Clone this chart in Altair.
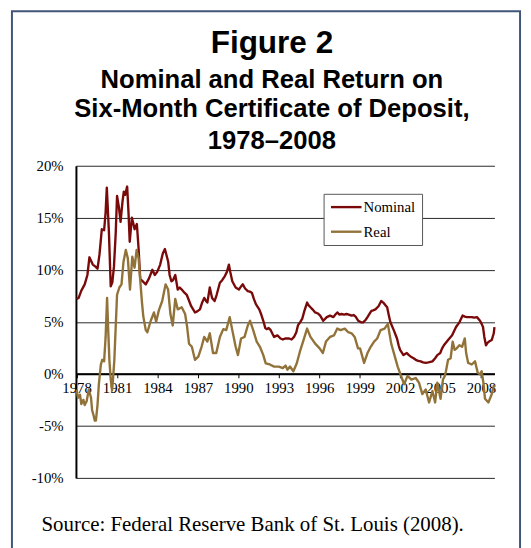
import altair as alt
import pandas as pd

# ---- data ----
nominal_t = [1978.0, 1978.15, 1978.35, 1978.6, 1978.8, 1978.95, 1979.2, 1979.4, 1979.55, 1979.7,
             1979.87, 1980.04, 1980.15, 1980.24, 1980.4, 1980.53, 1980.65, 1980.77, 1980.9, 1981.0,
             1981.14, 1981.26, 1981.4, 1981.5, 1981.6, 1981.75, 1981.85, 1981.94, 1982.1, 1982.2,
             1982.3, 1982.47, 1982.6, 1982.72, 1982.9, 1983.13, 1983.38, 1983.62, 1983.8, 1983.98,
             1984.2, 1984.4, 1984.55, 1984.65, 1984.79, 1984.9, 1985.03, 1985.15, 1985.32, 1985.5,
             1985.65, 1985.8, 1986.0, 1986.17, 1986.35, 1986.5, 1986.78, 1986.95, 1987.15, 1987.3,
             1987.47, 1987.6, 1987.7, 1987.88, 1988.05, 1988.24, 1988.39, 1988.63, 1988.8, 1989.0,
             1989.15, 1989.3, 1989.4, 1989.55, 1989.8, 1990.04, 1990.2, 1990.33, 1990.5, 1990.7,
             1990.85, 1991.0, 1991.15, 1991.3, 1991.55, 1991.7, 1991.85, 1992.0, 1992.1, 1992.25,
             1992.4, 1992.55, 1992.65, 1992.9, 1993.13, 1993.3, 1993.5, 1993.77, 1993.95, 1994.13,
             1994.3, 1994.42, 1994.6, 1994.74, 1994.9, 1995.1, 1995.2, 1995.35, 1995.5, 1995.7,
             1995.9, 1996.07, 1996.3, 1996.56, 1996.8, 1997.05, 1997.2, 1997.34, 1997.5, 1997.66,
             1997.85, 1998.02, 1998.2, 1998.4, 1998.55, 1998.7, 1998.9, 1999.1, 1999.26, 1999.45,
             1999.58, 1999.75, 1999.87, 2000.0, 2000.17, 2000.4, 2000.6, 2000.75, 2000.85, 2001.04,
             2001.15, 2001.28, 2001.53, 2001.77, 2001.9, 2002.0, 2002.25, 2002.5, 2002.65, 2002.8,
             2003.0, 2003.16, 2003.35, 2003.53, 2003.7, 2003.9, 2004.1, 2004.4, 2004.6, 2004.76,
             2004.98, 2005.1, 2005.25, 2005.56, 2005.86, 2006.0, 2006.15, 2006.4, 2006.64, 2006.8,
             2006.96, 2007.32, 2007.5, 2007.7, 2007.93, 2008.05, 2008.15, 2008.25, 2008.37, 2008.5,
             2008.6, 2008.8, 2008.95, 2009.0]
nominal_v = [7.2, 7.3, 8.0, 8.6, 9.5, 11.2, 10.5, 10.3, 10.1, 11.5,
             13.9, 13.8, 15.5, 17.9, 13.5, 8.4, 8.8, 10.3, 13.5, 17.1,
             16.0, 14.6, 16.5, 17.5, 17.2, 18.0, 15.5, 12.7, 15.0, 14.5,
             13.9, 14.4, 12.0, 9.1, 8.9, 8.6, 9.2, 10.0, 9.5, 9.8,
             10.5, 11.6, 12.0, 11.5, 10.8, 9.5, 8.9, 9.0, 9.5, 8.1,
             8.3, 8.1, 7.8, 7.6, 7.0, 6.5, 5.9, 6.0, 6.2, 6.8,
             7.3, 7.0, 6.85, 8.3, 7.3, 7.0, 7.6, 8.75, 9.0, 9.4,
             9.8, 10.5, 9.8, 8.9, 8.3, 8.1, 8.4, 8.6, 8.2, 7.95,
             7.9, 7.8, 7.2, 6.7, 6.2, 5.7, 5.1, 4.4, 4.3, 4.4,
             4.2, 3.8, 3.55, 3.7, 3.4, 3.3, 3.4, 3.4, 3.3, 3.55,
             4.0, 4.65, 5.0, 5.3, 6.05, 6.85, 6.6, 6.4, 6.2, 5.9,
             5.8, 5.6, 5.1, 5.45, 5.6, 5.45, 5.7, 5.9, 5.7, 5.75,
             5.7, 5.75, 5.7, 5.6, 5.65, 5.5, 5.1, 4.95, 4.95, 5.2,
             5.45, 5.8, 6.05, 6.1, 6.2, 6.5, 7.0, 6.85, 6.7, 6.4,
             5.7, 4.95, 4.2, 3.4, 2.7, 2.3, 1.8, 2.0, 1.8, 1.65,
             1.5, 1.35, 1.25, 1.2, 1.1, 1.05, 1.1, 1.2, 1.5, 1.8,
             2.0, 2.4, 2.75, 3.25, 3.7, 4.1, 4.5, 4.95, 5.6, 5.5,
             5.45, 5.45, 5.4, 5.45, 5.1, 4.8, 4.5, 3.55, 2.75, 3.0,
             3.1, 3.25, 3.9, 4.5]

real_t = [1978.0, 1978.1, 1978.25, 1978.35, 1978.5, 1978.6, 1978.75, 1978.9, 1979.07, 1979.15,
          1979.26, 1979.35, 1979.43, 1979.55, 1979.65, 1979.8, 1979.9, 1980.04, 1980.15, 1980.26,
          1980.35, 1980.43, 1980.53, 1980.63, 1980.7, 1980.8, 1980.9, 1981.0, 1981.17, 1981.33,
          1981.48, 1981.65, 1981.8, 1981.96, 1982.13, 1982.3, 1982.45, 1982.6, 1982.75, 1982.86,
          1982.95, 1983.13, 1983.25, 1983.5, 1983.74, 1983.9, 1984.1, 1984.35, 1984.6, 1984.79,
          1984.96, 1985.13, 1985.32, 1985.5, 1985.8, 1986.05, 1986.2, 1986.34, 1986.55, 1986.78,
          1987.03, 1987.27, 1987.47, 1987.7, 1987.88, 1988.12, 1988.36, 1988.63, 1988.88, 1989.1,
          1989.36, 1989.55, 1989.8, 1989.97, 1990.2, 1990.46, 1990.7, 1990.87, 1991.1, 1991.36,
          1991.6, 1991.85, 1992.03, 1992.33, 1992.65, 1993.0, 1993.3, 1993.5, 1993.64, 1993.83,
          1994.08, 1994.33, 1994.57, 1994.8, 1995.1, 1995.35, 1995.7, 1996.03, 1996.27, 1996.5,
          1996.8, 1997.1, 1997.34, 1997.58, 1997.9, 1998.15, 1998.4, 1998.63, 1998.88, 1999.03,
          1999.33, 1999.58, 1999.82, 2000.07, 2000.3, 2000.55, 2000.85, 2001.09, 2001.34, 2001.58,
          2001.82, 2002.07, 2002.3, 2002.55, 2002.84, 2003.16, 2003.4, 2003.65, 2003.9, 2004.15,
          2004.4, 2004.6, 2004.76, 2005.0, 2005.18, 2005.32, 2005.4, 2005.56, 2005.75, 2005.9,
          2006.05, 2006.2, 2006.4, 2006.6, 2006.8, 2006.9, 2007.05, 2007.32, 2007.56, 2007.76,
          2007.93, 2008.05, 2008.18, 2008.3, 2008.55, 2008.8, 2008.95, 2009.0]
real_v = [-1.5, -2.3, -2.0, -2.9, -2.5, -3.0, -2.6, -1.5, -2.3, -3.5,
          -4.0, -4.5, -4.5, -3.0, -1.0, 0.9, 1.35, 1.2, 3.5, 7.3,
          4.0, 1.35, -0.5, -1.6, -0.5, 1.35, 4.5, 7.6, 8.3, 8.6,
          10.8, 11.9, 11.1, 8.1, 11.25, 10.2, 11.9, 11.1, 8.5, 6.7,
          5.5, 4.2, 4.0, 5.1, 5.9, 5.0, 6.1, 7.0, 8.6, 8.1,
          5.75, 4.65, 7.2, 6.2, 6.4, 5.75, 4.5, 2.9, 2.6, 1.35,
          1.65, 2.6, 3.55, 3.1, 3.9, 2.0, 2.0, 3.55, 4.3, 4.2,
          5.45, 4.2, 2.6, 1.8, 3.4, 3.55, 4.65, 5.1, 4.2, 3.1,
          2.6, 1.8, 1.0, 0.9, 0.7, 0.7, 0.55, 0.8, 0.4, 0.7,
          0.25, 1.0, 2.15, 3.1, 4.35, 3.55, 2.9, 2.45, 2.0, 3.1,
          3.55, 3.7, 4.35, 4.2, 4.35, 4.0, 3.9, 3.55, 2.45, 2.45,
          1.05, 2.0, 2.6, 3.1, 3.4, 4.2, 4.35, 4.8, 2.9, 1.8,
          0.7, -0.2, -1.0, -0.2, -0.55, -0.4, -0.85, -1.95, -1.5, -2.75,
          -1.65, -2.75, -0.85, -2.4, -0.55, -0.2, 0.25, 1.35, 1.5, 3.1,
          2.3, 2.45, 2.75, 2.6, 3.4, 2.0, 1.05, 0.9, 1.2, 0.1,
          -0.05, 0.25, -0.85, -2.4, -2.75, -1.95, -1.15, -1.3]

series_names = ["Nominal", "Real"]
series_colors = ["#7a0a0a", "#917238"]
year_ticks = [1978, 1981, 1984, 1987, 1990, 1993, 1996, 1999, 2002, 2005, 2008]
pct_ticks = [-10, -5, 0, 5, 10, 15, 20]

title_main = "Figure 2"
title_lines = ["Nominal and Real Return on", "Six-Month Certificate of Deposit,", "1978\u20132008"]
source_text = "Source: Federal Reserve Bank of St. Louis (2008)."

df = pd.concat([
    pd.DataFrame({"year": nominal_t, "value": nominal_v, "series": "Nominal"}),
    pd.DataFrame({"year": real_t, "value": real_v, "series": "Real"}),
])

W, H = 425, 317
SERIF = "Liberation Serif"
SANS = "Liberation Sans"

xscale = alt.Scale(domain=[1977.95, 2009.0], nice=False, zero=False)
yscale = alt.Scale(domain=[-10, 20], nice=False, zero=False)

lines = alt.Chart(df).mark_line(strokeWidth=2.4, strokeJoin="round").encode(
    x=alt.X("year:Q", scale=xscale,
            axis=alt.Axis(values=year_ticks, format="d", title=None, offset=-H * 10 / 30,
                          domainColor="#000", domainWidth=2, tickColor="#000", tickSize=4,
                          tickWidth=1, labelFont=SERIF, labelFontSize=15, labelColor="#000",
                          labelPadding=3, grid=False, labelFlush=False, labelOverlap=False)),
    y=alt.Y("value:Q", scale=yscale,
            axis=alt.Axis(values=pct_ticks, labelExpr="datum.value + '%'", title=None,
                          domainColor="#000", domainWidth=2, ticks=False, labelPadding=13,
                          labelFont=SERIF, labelFontSize=15, labelColor="#000",
                          grid=True, gridColor="#000", gridWidth=1, gridOpacity=0.85)),
    color=alt.Color("series:N", scale=alt.Scale(domain=series_names, range=series_colors), legend=None),
    order="year:Q",
)

# legend box (manual, Excel-like)
leg_box = alt.Chart(pd.DataFrame({"a": [0]})).mark_rect(fill="white", stroke="#555", strokeWidth=1).encode(
    x=alt.value(252), x2=alt.value(352), y=alt.value(29), y2=alt.value(81))
leg_df = pd.DataFrame({"series": series_names, "ypos": [42, 67]})
leg_lines = alt.Chart(leg_df).mark_rule(strokeWidth=2.4).encode(
    x=alt.value(259), x2=alt.value(290), y=alt.Y("ypos:Q", scale=None),
    color=alt.Color("series:N", scale=alt.Scale(domain=series_names, range=series_colors), legend=None))
leg_text = alt.Chart(leg_df).mark_text(align="left", baseline="middle", font=SERIF, fontSize=15,
                                       color="#000").encode(
    x=alt.value(292), y=alt.Y("ypos:Q", scale=None), text="series:N")

# titles
t1 = alt.Chart(pd.DataFrame({"t": [title_main]})).mark_text(
    font=SANS, fontSize=32, fontWeight="bold", align="center", baseline="alphabetic", color="#000"
).encode(x=alt.value(199), y=alt.value(-114), text="t:N")
tl_df = pd.DataFrame({"t": title_lines, "ypos": [-79, -49, -17]})
t2 = alt.Chart(tl_df).mark_text(
    font=SANS, fontSize=26, fontWeight="bold", align="center", baseline="alphabetic", color="#000"
).encode(x=alt.value(199), y=alt.Y("ypos:Q", scale=None), text="t:N")
src = alt.Chart(pd.DataFrame({"t": [source_text]})).mark_text(
    font=SERIF, fontSize=21.2, align="left", baseline="alphabetic", color="#000"
).encode(x=alt.value(-35), y=alt.value(371), text="t:N")

frame = alt.Chart(pd.DataFrame({"a": [0]})).mark_rect(fill=None, stroke="#41557a", strokeWidth=2).encode(
    x=alt.value(-65), x2=alt.value(451), y=alt.value(-157), y2=alt.value(420))

chart = alt.layer(frame, lines, leg_box, leg_lines, leg_text, t1, t2, src).properties(
    width=W, height=H,
    autosize=alt.AutoSizeParams(type="none"),
    padding={"left": 69, "top": 156, "right": 29, "bottom": 67},
    background="white",
).configure_view(stroke=None)

chart.save("out.html", embed_options={"renderer": "svg", "actions": False})
